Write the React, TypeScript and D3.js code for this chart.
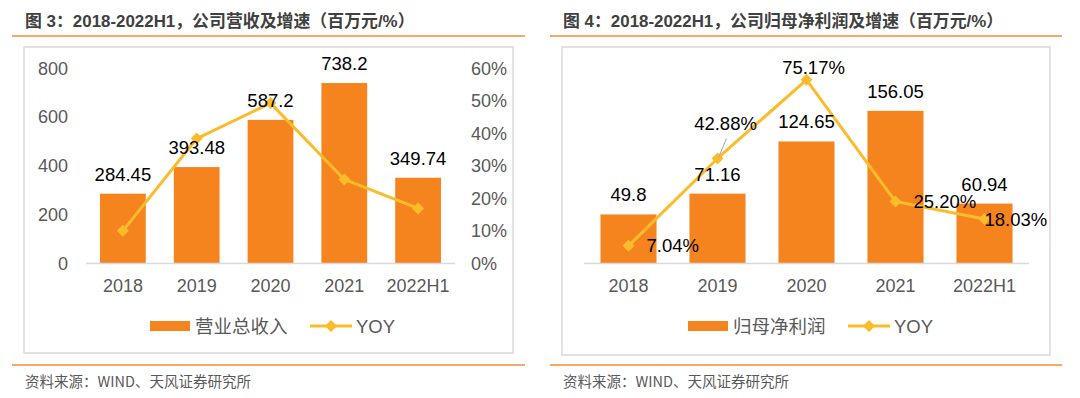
import * as d3 from "d3";

const years = ["2018", "2019", "2020", "2021", "2022H1"];
const revenue = [284.45, 393.48, 587.2, 738.2, 349.74];
const revenueYoy = [9.9, 38.3, 49.2, 25.7, 16.8];
const profit = [49.8, 71.16, 124.65, 156.05, 60.94];
const profitYoy = [7.04, 42.88, 75.17, 25.2, 18.03];
const profitYoyLabels = ["7.04%", "42.88%", "75.17%", "25.20%", "18.03%"];
const leftTicks = [0, 200, 400, 600, 800];
const rightTicks = [0, 10, 20, 30, 40, 50, 60];

const FONT = "'Liberation Sans', Arial, 'Noto Sans CJK SC', sans-serif";
const CJK = "'Noto Sans CJK SC', 'Liberation Sans', sans-serif";
const ORANGE = "#F5841F";
const YELLOW = "#FBBC2B";
const GREY = "#595959";

// placement of the YOY labels on the right chart
const yoyPlace = ["right", "leader", "above", "right", "right"];

const diamond = d3.symbol().type(d3.symbolSquare).size(72)();

type PanelProps = {
  left: number; // x of the panel's orange rule
  width: number;
  title: string;
  legendName: string;
  bars: number[];
  yoy: number[];
  yMax: number;
  yoyMax: number;
  xRange: [number, number];
  barPad: number;
  axes: boolean;
  yoyText?: string[];
  boxBottom: number;
};

function Panel(p: PanelProps) {
  const boxX = p.left + 12;
  const boxW = p.width - 24;
  const base = 263;
  const top = 68;

  const x = d3.scaleBand<string>().domain(years).range(p.xRange)
    .paddingInner(p.barPad).paddingOuter(p.barPad / 2);
  const y = d3.scaleLinear().domain([0, p.yMax]).range([base, top]);
  const y2 = d3.scaleLinear().domain([0, p.yoyMax]).range([base, top]);
  const cx = (i: number) => (x(years[i]) ?? 0) + x.bandwidth() / 2;

  const line = d3.line<number>().x((_, i) => cx(i)).y((d) => y2(d));
  const fmt = d3.format(",");

  const lgX = boxX + 126;
  const lgY = 326;

  return (
    <g>
      <text x={p.left + 13} y={27} fontFamily={FONT} fontSize={16.9} fontWeight="bold" fill="#404040">
        {p.title}
      </text>
      <line x1={p.left} x2={p.left + p.width} y1={36} y2={36} stroke="#F58A33" strokeWidth={1.6} />
      <rect x={boxX} y={47} width={boxW} height={p.boxBottom - 47} fill="#fff" stroke="#d9d9d9" strokeWidth={1.5} />

      {p.axes && leftTicks.map((t) => (
        <text key={"l" + t} x={68} y={y(t) + 6.5} textAnchor="end" fontFamily={FONT} fontSize={18} fill={GREY}>
          {t}
        </text>
      ))}
      {p.axes && rightTicks.map((t) => (
        <text key={"r" + t} x={471} y={y2(t) + 6.5} fontFamily={FONT} fontSize={18} fill={GREY}>
          {t + "%"}
        </text>
      ))}

      {p.bars.map((v, i) => (
        <rect key={"b" + i} x={x(years[i])} y={y(v)} width={x.bandwidth()} height={base - y(v)} fill={ORANGE} />
      ))}
      <line x1={p.xRange[0]} x2={p.xRange[1]} y1={base + 0.5} y2={base + 0.5} stroke="#d9d9d9" strokeWidth={1.5} />

      {years.map((yr, i) => (
        <text key={"x" + yr} x={cx(i)} y={292} textAnchor="middle" fontFamily={FONT} fontSize={18} fill={GREY}>
          {yr}
        </text>
      ))}

      <path d={line(p.yoy) ?? ""} fill="none" stroke={YELLOW} strokeWidth={3} strokeLinejoin="round" />
      {p.yoy.map((v, i) => (
        <path key={"m" + i} d={diamond} transform={`translate(${cx(i)},${y2(v)}) rotate(45)`} fill={YELLOW} />
      ))}

      {p.bars.map((v, i) => (
        <text key={"bl" + i} x={cx(i)} y={y(v) - 13} textAnchor="middle" fontFamily={FONT} fontSize={18.5} fill="#000">
          {fmt(v)}
        </text>
      ))}

      {p.yoyText && p.yoy.map((v, i) => {
        const px = cx(i);
        const py = y2(v);
        const place = yoyPlace[i];
        if (place === "right") {
          const dx = i === 4 ? 0 : 18;
          return (
            <text key={"yl" + i} x={px + dx} y={py + 6.5} fontFamily={FONT} fontSize={18.5} fill="#000">
              {p.yoyText![i]}
            </text>
          );
        }
        if (place === "above") {
          return (
            <text key={"yl" + i} x={px + 7} y={py - 5.5} textAnchor="middle" fontFamily={FONT} fontSize={18.5} fill="#000">
              {p.yoyText![i]}
            </text>
          );
        }
        return (
          <g key={"yl" + i}>
            <line x1={px + 1} y1={py - 1} x2={px + 9} y2={py - 20} stroke="#a6a6a6" strokeWidth={1} />
            <text x={px + 8} y={py - 28.5} textAnchor="middle" fontFamily={FONT} fontSize={18.5} fill="#000">
              {p.yoyText![i]}
            </text>
          </g>
        );
      })}

      <rect x={lgX} y={lgY - 5} width={40} height={10} fill={ORANGE} />
      <text x={lgX + 45} y={lgY + 7} fontFamily={CJK} fontSize={18.5} fill={GREY}>
        {p.legendName}
      </text>
      <line x1={lgX + 160} x2={lgX + 202} y1={lgY} y2={lgY} stroke={YELLOW} strokeWidth={3} />
      <path d={diamond} transform={`translate(${lgX + 181},${lgY}) rotate(45)`} fill={YELLOW} />
      <text x={lgX + 206} y={lgY + 7} fontFamily={FONT} fontSize={18.5} fill={GREY}>
        YOY
      </text>

      <line x1={p.left} x2={p.left + p.width} y1={365} y2={365} stroke="#F58A33" strokeWidth={1.6} />
      <text x={p.left + 13} y={387} fontFamily={CJK} fontSize={14.5} fill={GREY}>
        资料来源：WIND、天风证券研究所
      </text>
    </g>
  );
}

export default function App() {
  return (
    <svg width={1080} height={398} style={{ position: "absolute", left: 0, top: 0, background: "#fff" }}>
      <rect width={1080} height={398} fill="#fff" />
      <Panel
        left={12}
        width={513}
        title="图 3：2018-2022H1，公司营收及增速（百万元/%）"
        legendName="营业总收入"
        bars={revenue}
        yoy={revenueYoy}
        yMax={800}
        yoyMax={60}
        xRange={[86, 455]}
        barPad={0.38}
        axes={true}
        boxBottom={353}
      />
      <Panel
        left={550}
        width={512}
        title="图 4：2018-2022H1，公司归母净利润及增速（百万元/%）"
        legendName="归母净利润"
        bars={profit}
        yoy={profitYoy}
        yMax={200}
        yoyMax={80}
        xRange={[584, 1029]}
        barPad={0.37}
        axes={false}
        yoyText={profitYoyLabels}
        boxBottom={355}
      />
    </svg>
  );
}
